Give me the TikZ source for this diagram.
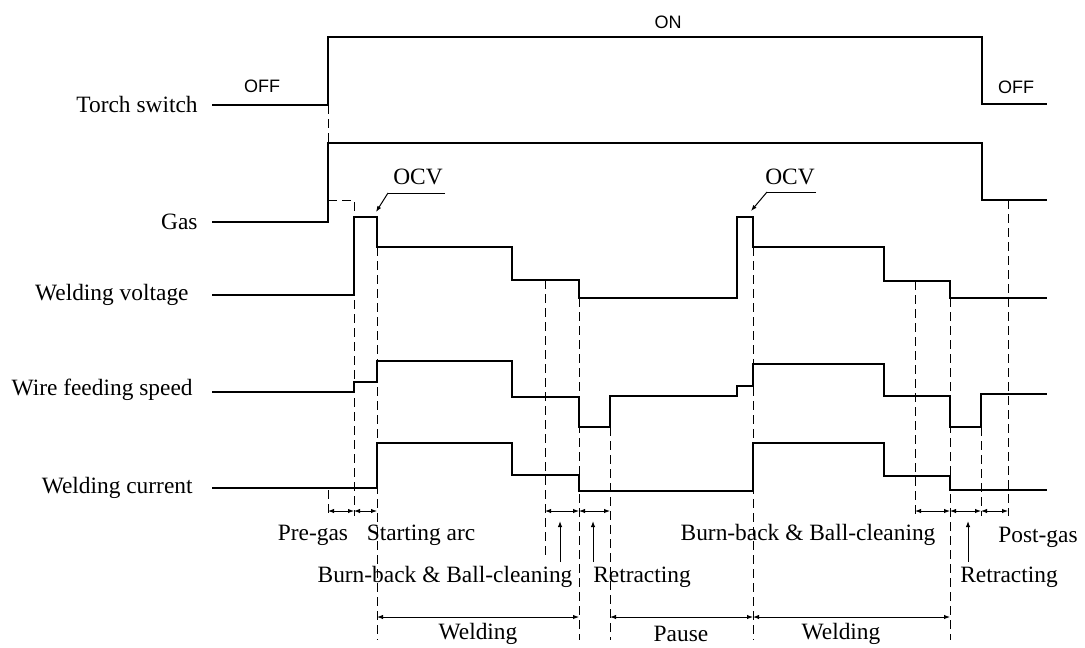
\documentclass[tikz,border=0pt]{standalone}
\usepackage{fontspec}
\setmainfont{Liberation Serif}
\newfontfamily\statefont{Liberation Sans}
\usetikzlibrary{arrows.meta}

\begin{document}
\begin{tikzpicture}[x=0.5pt, y=-0.5pt, >={Latex[length=3pt,width=2.2pt]},
  sig/.style={line width=1pt},
  guide/.style={line width=0.5pt, dash pattern=on 4.5pt off 2.5pt},
  span/.style={<->, line width=0.45pt},
  lbl/.style={font=\fontsize{11.7}{14}\selectfont, inner sep=0pt},
  state/.style={font=\statefont\fontsize{9}{10}\selectfont, inner sep=0pt}]

  \useasboundingbox (0,0) rectangle (1085,647);

  % Signalnamen
  \node[lbl, anchor=east] (torch) at (198,104) {Torch switch};
  \node[lbl, anchor=east] (gas) at (198,222) {Gas};
  \node[lbl, anchor=east] (volt) at (189,295) {Welding voltage};
  \node[lbl, anchor=east] (wire) at (193,390) {Wire feeding speed};
  \node[lbl, anchor=east] (curr) at (193,488) {Welding current};

  % Signale
  \draw[sig] (212,105) -- (328,105) -- (328,37) -- (982,37) -- (982,104) -- (1047,104);
  \draw[sig] (212,222) -- (328,222) -- (328,143) -- (982,143) -- (982,200) -- (1047,200);
  \draw[sig] (212,295) -- (354,295) -- (354,217) -- (377,217) -- (377,247) -- (512,247)
    -- (512,280) -- (579,280) -- (579,298) -- (737,298) -- (737,217) -- (753,217)
    -- (753,247) -- (884,247) -- (884,281) -- (950,281) -- (950,298) -- (1047,298);
  \draw[sig] (212,392) -- (354,392) -- (354,382) -- (377,382) -- (377,361) -- (512,361)
    -- (512,397) -- (579,397) -- (579,427) -- (610,427) -- (610,396) -- (737,396)
    -- (737,386) -- (753,386) -- (753,364) -- (884,364) -- (884,396) -- (950,396)
    -- (950,427) -- (981,427) -- (981,394) -- (1047,394);
  \draw[sig] (212,488) -- (377,488) -- (377,443) -- (512,443) -- (512,475) -- (579,475)
    -- (579,491) -- (753,491) -- (753,443) -- (884,443) -- (884,476) -- (950,476)
    -- (950,490) -- (1047,490);

  % Zustaende
  \node[state] (off1) at (262,86) {OFF};
  \node[state] (on) at (668,22) {ON};
  \node[state] (off2) at (1016,87) {OFF};

  % OCV
  \node[lbl] (ocv1) at (418,177) {OCV};
  \node[lbl] (ocv2) at (790,177) {OCV};
  \coordinate (k1) at (388,193);
  \coordinate (k2) at (767,192);
  \draw[line width=0.5pt] (445,193) -- (k1);
  \draw[->, line width=0.5pt] (k1) -- (376,212);
  \draw[line width=0.5pt] (816,192) -- (k2);
  \draw[->, line width=0.5pt] (k2) -- (751,211);

  % Hilfslinien
  \draw[guide] (328,105) -- (328,143);
  \draw[guide] (328,200) -- (354,200) -- (354,516);
  \draw[guide] (328,490) -- (328,516);
  \draw[guide] (377,247) -- (377,640);
  \draw[guide] (545,280) -- (545,556);
  \draw[guide] (579,298) -- (579,640);
  \draw[guide] (610,427) -- (610,640);
  \draw[guide] (753,247) -- (753,640);
  \draw[guide] (915,281) -- (915,516);
  \draw[guide] (950,298) -- (950,640);
  \draw[guide] (981,427) -- (981,516);
  \draw[guide] (1008,200) -- (1008,516);

  % Zeitabschnitte
  \draw[span] (328,511) -- (354,511);
  \draw[span] (354,511) -- (377,511);
  \draw[span] (545,511) -- (579,511);
  \draw[span] (579,511) -- (610,511);
  \draw[span] (915,511) -- (950,511);
  \draw[span] (950,511) -- (981,511);
  \draw[span] (981,511) -- (1008,511);
  \draw[span] (377,617) -- (579,617);
  \draw[span] (610,617) -- (753,617);
  \draw[span] (753,617) -- (950,617);

  % Beschriftungen
  \node[lbl] (pregas) at (313,535) {Pre-gas};
  \node[lbl] (start) at (421,535) {Starting arc};
  \node[lbl] (burn1) at (445,577) {Burn-back \& Ball-cleaning};
  \node[lbl] (retr1) at (642,577) {Retracting};
  \node[lbl] (weld1) at (478,634) {Welding};
  \node[lbl] (pause) at (681,634) {Pause};
  \node[lbl] (weld2) at (841,634) {Welding};
  \node[lbl] (burn2) at (808,535) {Burn-back \& Ball-cleaning};
  \node[lbl] (retr2) at (1009,577) {Retracting};
  \node[lbl] (postgas) at (1038,537) {Post-gas};

  % Zeiger
  \draw[->, line width=0.5pt] (560,562) -- (560,521);
  \draw[->, line width=0.5pt] (593,562) -- (593,521);
  \draw[->, line width=0.5pt] (968,562) -- (968,521);
\end{tikzpicture}
\end{document}
